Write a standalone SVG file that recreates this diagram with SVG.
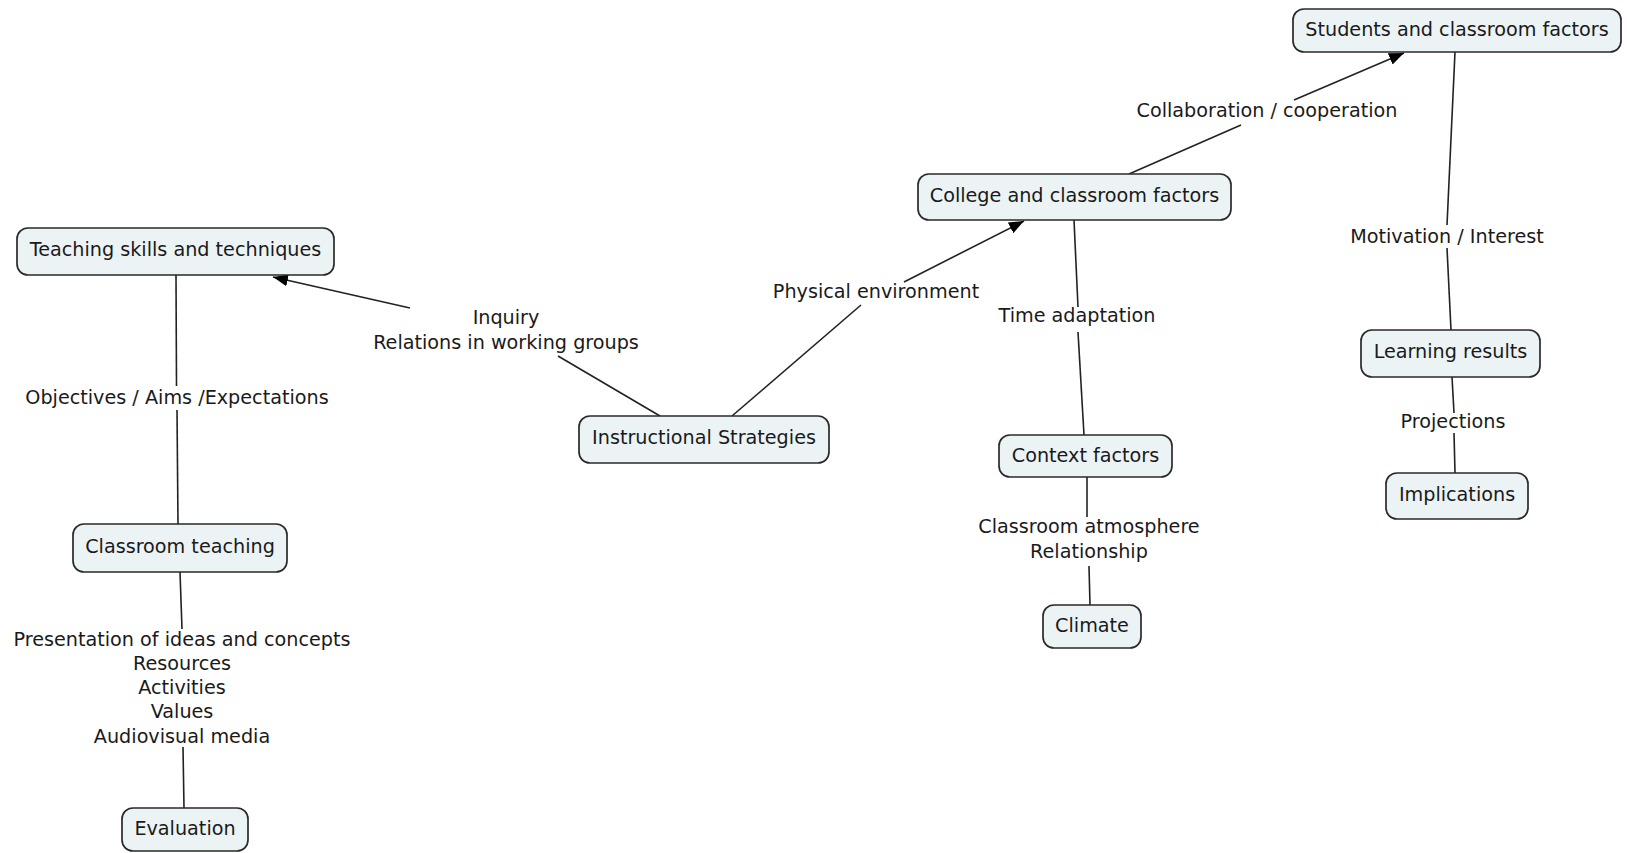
<svg xmlns="http://www.w3.org/2000/svg" width="1627" height="853" viewBox="0 0 1627 853">
<style>
.node rect{fill:#ecf3f5;stroke:#2a2a2a;stroke-width:1.7}
text{font-family:"DejaVu Sans","Liberation Sans",sans-serif;font-size:19.2px;fill:#1a1a1a;text-anchor:middle;dominant-baseline:central}
.conn line{stroke:#222;stroke-width:1.6}
</style>
<defs>
<marker id="arr" markerUnits="userSpaceOnUse" markerWidth="16" markerHeight="14" refX="15" refY="6" orient="auto">
<path d="M0,0 L15,6 L0,12 Z" fill="#000"/>
</marker>
</defs>
<rect width="1627" height="853" fill="#fff"/>
<g id="connectors" class="conn">
<line x1="176" y1="275" x2="176.5" y2="386"/>
<line x1="177" y1="410" x2="178" y2="524"/>
<line x1="180" y1="572" x2="182" y2="629"/>
<line x1="183" y1="747" x2="184" y2="808"/>
<line x1="660" y1="416" x2="558" y2="356"/>
<line x1="410" y1="308" x2="273" y2="277" marker-end="url(#arr)"/>
<line x1="732" y1="416" x2="861" y2="305"/>
<line x1="904" y1="282" x2="1024" y2="221" marker-end="url(#arr)"/>
<line x1="1074" y1="220" x2="1078" y2="307"/>
<line x1="1078" y1="332" x2="1084" y2="435"/>
<line x1="1087" y1="477" x2="1087" y2="517"/>
<line x1="1089" y1="566" x2="1090" y2="605"/>
<line x1="1129" y1="174" x2="1241" y2="125"/>
<line x1="1294" y1="100" x2="1404" y2="53" marker-end="url(#arr)"/>
<line x1="1455" y1="52" x2="1447" y2="225"/>
<line x1="1447" y1="248" x2="1451" y2="330"/>
<line x1="1452" y1="377" x2="1454" y2="413"/>
<line x1="1454" y1="433" x2="1455" y2="473"/>
</g>
<g id="labels">
<text x="177" y="397">Objectives / Aims /Expectations</text>
<text x="506" y="317">Inquiry</text>
<text x="506" y="342">Relations in working groups</text>
<text x="876" y="291">Physical environment</text>
<text x="1077" y="315">Time adaptation</text>
<text x="1267" y="110">Collaboration / cooperation</text>
<text x="1447" y="236">Motivation / Interest</text>
<text x="1453" y="421">Projections</text>
<text x="1089" y="526">Classroom atmosphere</text>
<text x="1089" y="551">Relationship</text>
<text x="182" y="639">Presentation of ideas and concepts</text>
<text x="182" y="663">Resources</text>
<text x="182" y="687">Activities</text>
<text x="182" y="711">Values</text>
<text x="182" y="736">Audiovisual media</text>
</g>
<g id="n-students" class="node"><rect x="1293" y="9" width="328" height="43" rx="11"/><text x="1457" y="29.5">Students and classroom factors</text></g>
<g id="n-college" class="node"><rect x="918" y="174" width="313" height="46" rx="11"/><text x="1074.5" y="195.5">College and classroom factors</text></g>
<g id="n-teaching" class="node"><rect x="17" y="228" width="317" height="47" rx="11"/><text x="175.5" y="249.5">Teaching skills and techniques</text></g>
<g id="n-instructional" class="node"><rect x="579" y="416" width="250" height="47" rx="11"/><text x="704" y="437.5">Instructional Strategies</text></g>
<g id="n-context" class="node"><rect x="999" y="435" width="173" height="42" rx="11"/><text x="1085.5" y="455">Context factors</text></g>
<g id="n-learning" class="node"><rect x="1361" y="330" width="179" height="47" rx="11"/><text x="1450.5" y="351.5">Learning results</text></g>
<g id="n-implications" class="node"><rect x="1386" y="473" width="142" height="46" rx="11"/><text x="1457" y="494.5">Implications</text></g>
<g id="n-classroom" class="node"><rect x="73" y="524" width="214" height="48" rx="11"/><text x="180" y="546.5">Classroom teaching</text></g>
<g id="n-climate" class="node"><rect x="1043" y="605" width="98" height="43" rx="11"/><text x="1092" y="625.5">Climate</text></g>
<g id="n-evaluation" class="node"><rect x="122" y="808" width="126" height="43" rx="11"/><text x="185" y="828.5">Evaluation</text></g>
</svg>
